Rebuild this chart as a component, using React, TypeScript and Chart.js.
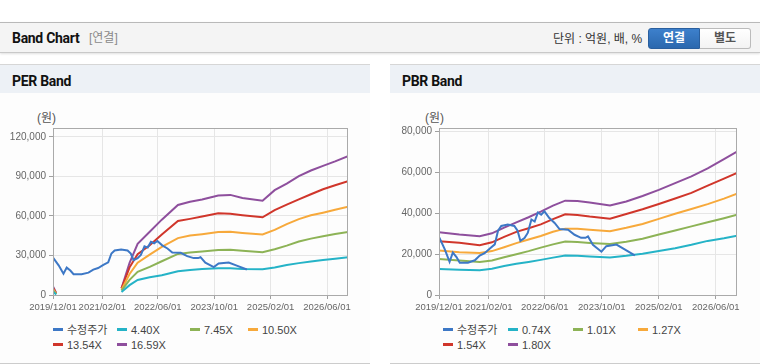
import React, { useEffect, useRef } from 'react';
import { Chart, registerables } from 'chart.js';

Chart.register(...registerables);

// ---------- shared x axis ----------
const X_TICK_POS = [0, 12.25, 26, 40, 54, 68];
const X_TICK_LABELS = ['2019/12/01', '2021/02/01', '2022/06/01', '2023/10/01', '2025/02/01', '2026/06/01'];
const X_MAX = 73.2;

// ---------- adjusted price (수정주가) ----------
const PRICE_T = [0, 1.4, 2.6, 3.4, 4.3, 5.1, 7.1, 8.8, 10.0, 11.2, 12.5, 13.7, 14.5, 15.3, 16.9, 18.5, 19.3, 20.0, 21.0, 21.8, 22.7, 23.5, 24.3, 25.1, 25.9, 27.1, 28.4, 29.6, 31.7, 33.3, 34.9, 36.0, 36.6, 37.8, 39.9, 41.1, 43.6, 45.6, 48.1];
const PRICE_V = [28500, 22500, 16200, 20800, 18600, 15800, 15800, 17000, 19300, 20500, 22800, 24800, 31500, 33800, 34500, 33800, 31500, 26500, 27900, 30400, 37000, 36000, 40400, 39300, 41000, 37700, 35300, 32300, 32000, 29500, 28000, 28000, 28700, 24600, 21200, 23900, 24700, 22300, 19400];

// ---------- PER band ----------
const PER_LABELS = ['수정주가', '4.40X', '7.45X', '10.50X', '13.54X', '16.59X'];
const PER_T = [0, 0.8, 1.5, 17, 19, 21, 24, 27, 31, 34, 37, 41, 44, 47, 52, 55, 58, 61, 64, 67, 70, 73.2];
const PER_440 = [2500, 400, null, 2300, 7500, 11400, 13500, 15000, 18000, 19000, 19700, 20400, 20300, 19800, 19600, 20900, 22800, 24200, 25500, 26600, 27600, 28700];
const PER_745 = [3500, 700, null, 3300, 11500, 17600, 21400, 25600, 31200, 32300, 33000, 34200, 34300, 33600, 32400, 34800, 37500, 40600, 42800, 44600, 46300, 47900];
const PER_1050 = [4500, 900, null, 4000, 16000, 24500, 30700, 36500, 43200, 45100, 46200, 47800, 48000, 47100, 45900, 49400, 53800, 57600, 60500, 62500, 64700, 67000];
const PER_1354 = [5500, 1200, null, 5000, 21000, 31000, 37800, 46000, 56200, 57800, 59600, 62000, 61600, 60500, 59000, 64500, 68600, 72600, 76500, 80300, 83300, 86500];
const PER_1659 = [6500, 1500, null, 5000, 24500, 38800, 48000, 57200, 68400, 70800, 72500, 75500, 76000, 73600, 71600, 79600, 84500, 90200, 94500, 98000, 101500, 105500];
const PER_Y_TICKS = [0, 30000, 60000, 90000, 120000];
const PER_Y_MAX = 126800;

// ---------- PBR band ----------
const PBR_LABELS = ['수정주가', '0.74X', '1.01X', '1.27X', '1.54X', '1.80X'];
const PBR_T = [0, 5, 10, 13, 16, 19, 22, 25, 28, 31, 34, 37, 42, 46, 50, 54, 58, 62, 66, 70, 73.2];
const PBR_074 = [12700, 12400, 12100, 12900, 14200, 15300, 16200, 17200, 18300, 19300, 19200, 18900, 18400, 19200, 20200, 21500, 22900, 24600, 26500, 27800, 29000];
const PBR_101 = [17600, 16900, 16200, 16900, 18500, 20000, 21500, 23200, 24800, 26200, 25900, 25500, 25000, 26100, 27600, 29600, 31600, 33600, 35600, 37600, 39300];
const PBR_127 = [21800, 21000, 20600, 21500, 23400, 25400, 27200, 28900, 31000, 32500, 32400, 32000, 31200, 32900, 34800, 37300, 39800, 42100, 44500, 47200, 49600];
const PBR_154 = [26300, 25600, 24400, 25800, 28500, 30900, 32700, 34600, 37200, 39500, 39200, 38400, 37400, 39700, 42000, 44600, 47300, 50000, 53600, 57000, 59800];
const PBR_180 = [30800, 29600, 28800, 30200, 33000, 35600, 38100, 40800, 43800, 46200, 46000, 45300, 43900, 45800, 48500, 51500, 54800, 58100, 62000, 66500, 70200];
const PBR_Y_TICKS = [0, 20000, 40000, 60000, 80000];
const PBR_Y_MAX = 81800;

const COLORS = ['#3d78c6', '#25b3c7', '#8db356', '#f7a93b', '#d0362b', '#8e4f9d'];

const FONT = '"Liberation Sans", Arial, "Noto Sans CJK KR", sans-serif';

function toPoints(t: number[], v: (number | null)[]) {
  return t.map((x, i) => ({ x, y: v[i] }));
}

function fmt(n: number) {
  return String(Math.round(n)).replace(/\B(?=(\d{3})+(?!\d))/g, ',');
}

const boxPlugin = {
  id: 'plotBox',
  afterDraw(chart: any) {
    const { ctx, chartArea: a } = chart;
    ctx.save();
    ctx.strokeStyle = '#aaaaaa';
    ctx.lineWidth = 1;
    ctx.strokeRect(Math.round(a.left) + 0.5, Math.round(a.top) + 0.5, Math.round(a.right - a.left) - 1, Math.round(a.bottom - a.top));
    ctx.restore();
  },
};

function makeConfig(labels: string[], bandT: number[], bands: (number | null)[][], yTicks: number[], yMax: number, yWidth: number, padRight: number): any {
  const raw = [
    { label: labels[0], data: toPoints(PRICE_T, PRICE_V), borderColor: COLORS[0] },
    ...bands.map((b, i) => ({ label: labels[i + 1], data: toPoints(bandT, b), borderColor: COLORS[i + 1] })),
  ];
  const datasets = raw.map((d) => ({
    ...d,
    borderWidth: 2,
    pointRadius: 0,
    pointHoverRadius: 0,
    fill: false,
    tension: 0,
    spanGaps: false,
  }));
  return {
    type: 'line',
    data: { datasets },
    options: {
      animation: false,
      responsive: false,
      maintainAspectRatio: false,
      events: [],
      layout: { padding: { left: 0, right: padRight, top: 35, bottom: 0 } },
      plugins: { legend: { display: false }, tooltip: { enabled: false }, title: { display: false } },
      scales: {
        x: {
          type: 'linear',
          min: 0,
          max: X_MAX,
          afterBuildTicks: (s: any) => {
            s.ticks = X_TICK_POS.map((v) => ({ value: v }));
          },
          afterFit: (s: any) => {
            s.height = 25;
          },
          ticks: {
            autoSkip: false,
            maxRotation: 0,
            minRotation: 0,
            padding: 3,
            color: '#666666',
            font: { size: 9.5, family: FONT },
            callback: (_v: any, i: number) => X_TICK_LABELS[i],
          },
          grid: { color: '#e6e6e6', tickColor: '#a0a0a0', tickLength: 4, lineWidth: 1 },
          border: { display: false },
        },
        y: {
          type: 'linear',
          min: 0,
          max: yMax,
          afterBuildTicks: (s: any) => {
            s.ticks = yTicks.map((v) => ({ value: v }));
          },
          afterFit: (s: any) => {
            s.width = yWidth;
          },
          ticks: {
            padding: 3,
            color: '#666666',
            font: { size: 10, family: FONT },
            callback: (v: any) => fmt(Number(v)),
          },
          grid: { color: '#e6e6e6', tickColor: '#a0a0a0', tickLength: 4, lineWidth: 1 },
          border: { display: false },
        },
      },
    },
    plugins: [boxPlugin],
  };
}

function BandCanvas({ config, left }: { config: any; left: number }) {
  const ref = useRef<HTMLCanvasElement | null>(null);
  useEffect(() => {
    if (!ref.current) return;
    const chart = new Chart(ref.current, config);
    return () => chart.destroy();
  }, []);
  return (
    <canvas
      ref={ref}
      width={370}
      height={227}
      style={{ position: 'absolute', left, top: 93, width: 370, height: 227 }}
    />
  );
}

function Legend({ labels, cols }: { labels: string[]; cols: number[] }) {
  const rows = [329.5, 344.5];
  return (
    <>
      {labels.map((lab, i) => {
        const r = i < 4 ? 0 : 1;
        const c = i < 4 ? i : i - 4;
        const x = cols[c];
        const y = rows[r];
        return (
          <React.Fragment key={lab + i}>
            <div style={{ position: 'absolute', left: x, top: y - 1.5, width: 10, height: 3, background: COLORS[i] }} />
            <div style={{ position: 'absolute', left: x + 14, top: y - 7, height: 14, lineHeight: '14px', fontSize: 11, color: '#444', whiteSpace: 'nowrap' }}>{lab}</div>
          </React.Fragment>
        );
      })}
    </>
  );
}

function Panel({ left, title }: { left: number; title: string }) {
  return (
    <>
      <div style={{ position: 'absolute', left, top: 64, width: 370, height: 28, background: '#edf1f6', borderTop: '1px solid #d6d6d6' }} />
      <div style={{ position: 'absolute', left, top: 93, width: 370, height: 270, background: '#fdfdfd' }} />
      <div style={{ position: 'absolute', left, top: 363, width: 370, height: 1, background: '#cccccc' }} />
      <div style={{ position: 'absolute', left: left + 12, top: 73, lineHeight: '16px', fontSize: 14, fontWeight: 700, fontFamily: 'Roboto, "Liberation Sans", sans-serif', letterSpacing: '-0.3px', color: '#111' }}>{title}</div>
    </>
  );
}

export default function App() {
  const perConfig = makeConfig(PER_LABELS, PER_T, [PER_440, PER_745, PER_1050, PER_1354, PER_1659], PER_Y_TICKS, PER_Y_MAX, 53, 22);
  const pbrConfig = makeConfig(PBR_LABELS, PBR_T, [PBR_074, PBR_101, PBR_127, PBR_154, PBR_180], PBR_Y_TICKS, PBR_Y_MAX, 49, 23);
  return (
    <div style={{ position: 'absolute', left: 0, top: 0, width: 760, height: 364, background: '#ffffff', overflow: 'hidden', fontFamily: FONT }}>
      {/* top header bar */}
      <div style={{ position: 'absolute', left: 0, top: 22, width: 760, height: 29, background: '#f4f4f4', borderTop: '1px solid #b9b9b9', borderBottom: '1px solid #c9c9c9', boxShadow: '0 1px 2px rgba(0,0,0,0.12)' }} />
      <div style={{ position: 'absolute', left: 12, top: 30, lineHeight: '16px', fontSize: 14, fontWeight: 700, fontFamily: 'Roboto, "Liberation Sans", sans-serif', letterSpacing: '-0.3px', color: '#111' }}>Band Chart</div>
      <div style={{ position: 'absolute', left: 89, top: 31, lineHeight: '14px', fontSize: 12, color: '#8a8a8a' }}>[연결]</div>
      <div style={{ position: 'absolute', left: 553, top: 32, lineHeight: '14px', fontSize: 12, color: '#333' }}>단위 : 억원, 배, %</div>
      <div style={{ position: 'absolute', left: 648, top: 28, width: 52, height: 21, boxSizing: 'border-box', background: 'linear-gradient(#3d80cc, #2b68ae)', border: '1px solid #2a5f9e', borderRadius: '3px 0 0 3px', color: '#fff', fontSize: 12, fontWeight: 700, lineHeight: '19px', textAlign: 'center' }}>연결</div>
      <div style={{ position: 'absolute', left: 700, top: 28, width: 51, height: 21, boxSizing: 'border-box', background: 'linear-gradient(#ffffff, #f3f3f3)', border: '1px solid #bbbbbb', borderLeft: 'none', borderRadius: '0 3px 3px 0', color: '#555', fontSize: 12, fontWeight: 700, lineHeight: '19px', textAlign: 'center' }}>별도</div>

      <Panel left={0} title="PER Band" />
      <Panel left={390} title="PBR Band" />

      <div style={{ position: 'absolute', left: 37, top: 111, lineHeight: '14px', fontSize: 12, color: '#555' }}>(원)</div>
      <div style={{ position: 'absolute', left: 425, top: 111, lineHeight: '14px', fontSize: 12, color: '#555' }}>(원)</div>

      <BandCanvas config={perConfig} left={0} />
      <BandCanvas config={pbrConfig} left={390} />

      <Legend labels={PER_LABELS} cols={[53, 117, 190, 248]} />
      <Legend labels={PBR_LABELS} cols={[443, 508, 573, 638]} />
    </div>
  );
}
